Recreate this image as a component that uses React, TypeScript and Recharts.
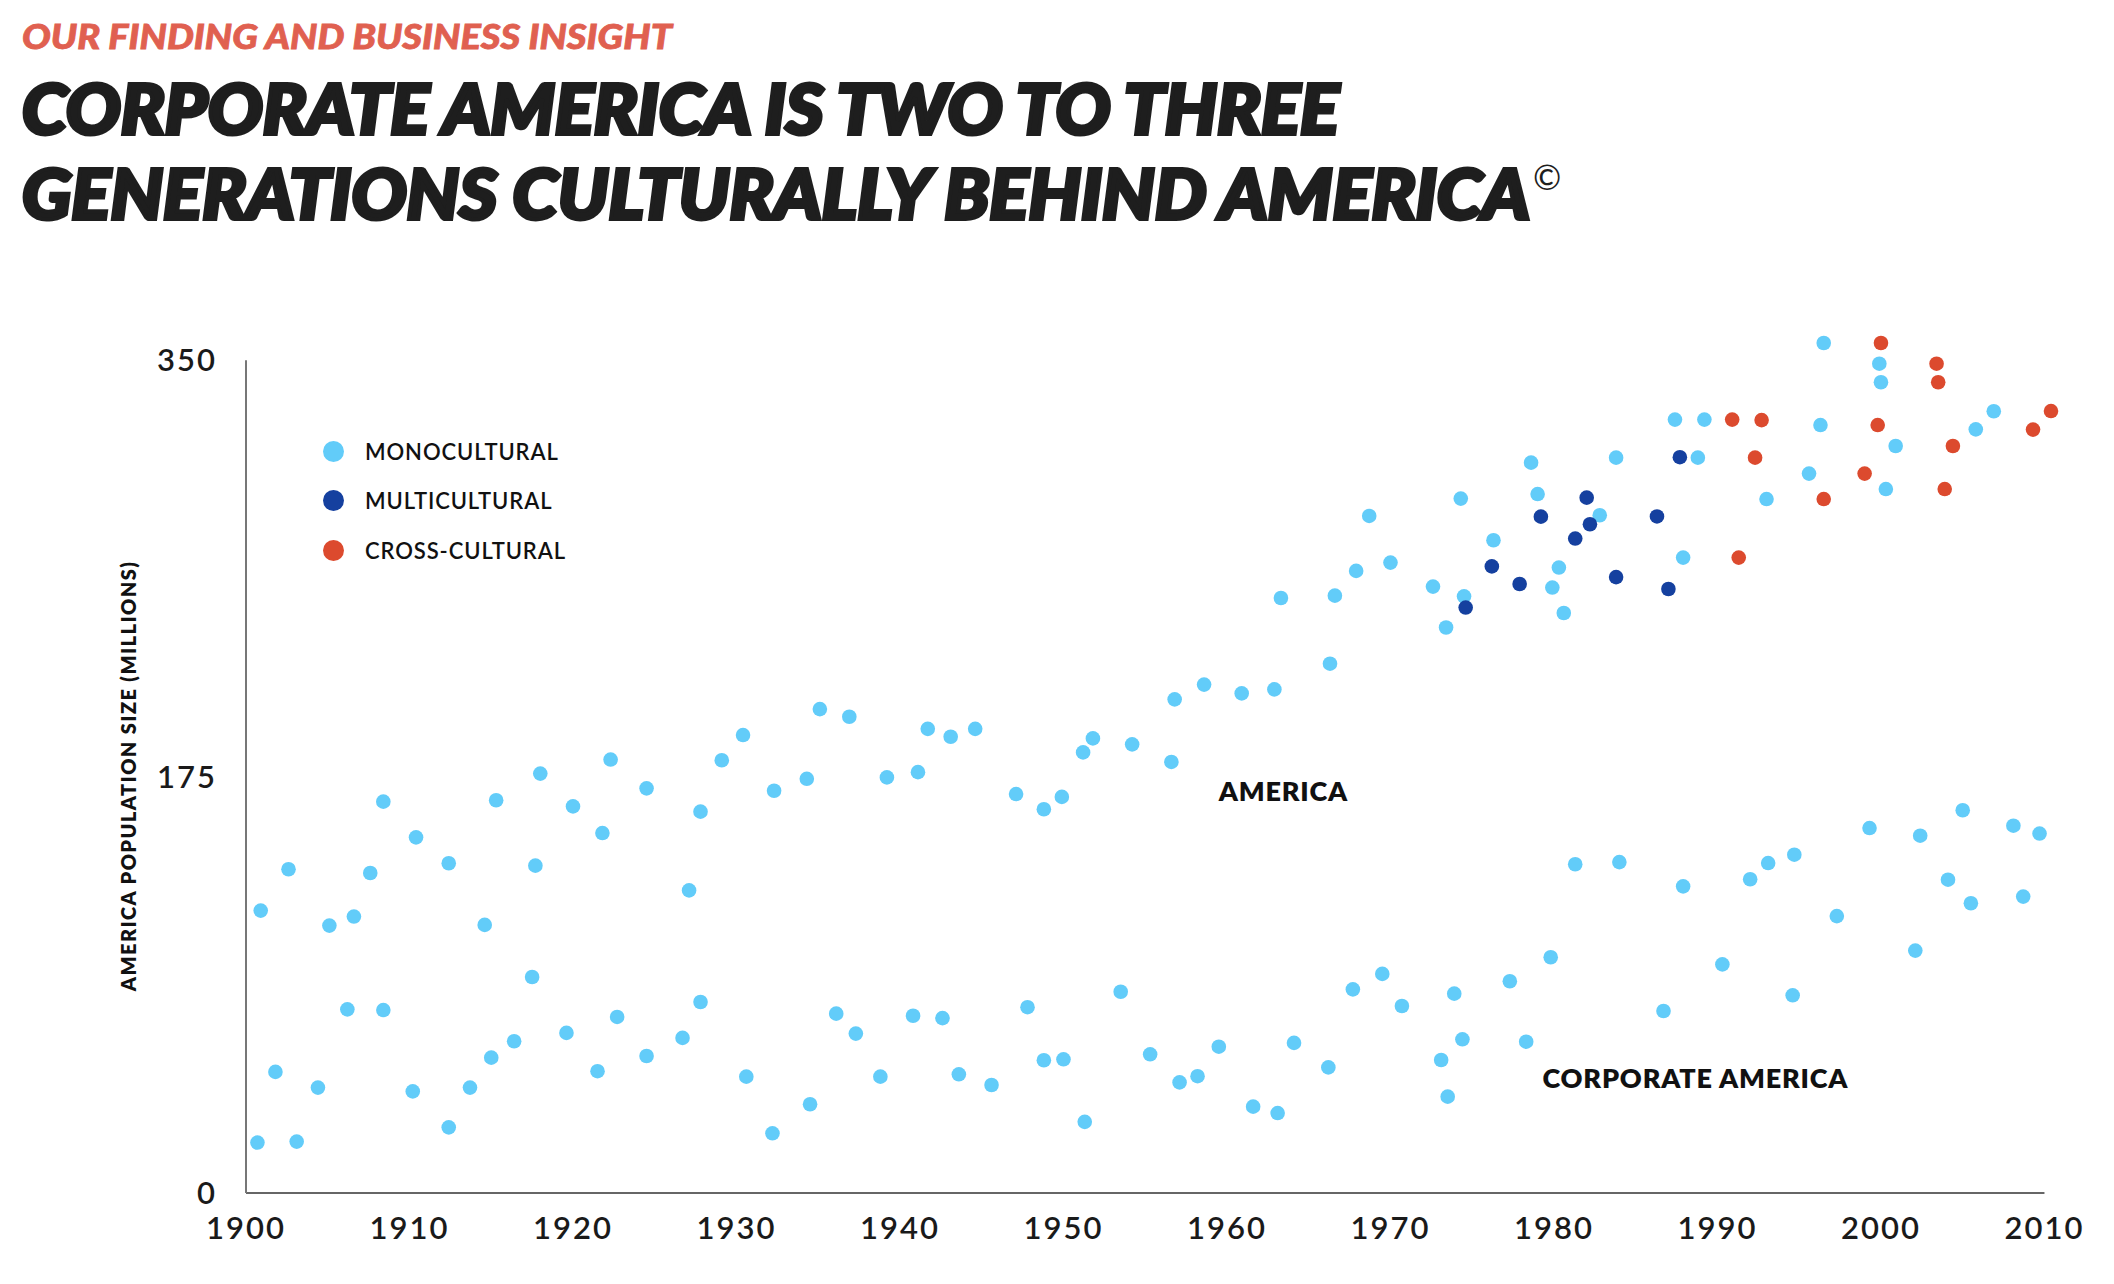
import { Legend, ReferenceDot, ReferenceLine, Scatter, ScatterChart, XAxis, YAxis } from 'recharts';

const MONO = '#62CCF9';
const MULTI = '#15409F';
const CROSS = '#DC4A2E';

const X_TICKS = [1900, 1910, 1920, 1930, 1940, 1950, 1960, 1970, 1980, 1990, 2000, 2010];
const Y_TICKS = [0, 175, 350];

// [year, population in millions]
const americaMono: [number, number][] = [
  [1900.9, 118.7], [1902.6, 136.1], [1905.1, 112.4], [1906.6, 116.2], [1907.6, 134.5],
  [1908.4, 164.5], [1910.4, 149.5], [1912.4, 138.6], [1914.6, 112.7], [1915.3, 165.1],
  [1917.7, 137.6], [1918.0, 176.3], [1920.0, 162.5], [1921.8, 151.3], [1922.3, 182.2],
  [1924.5, 170.1], [1927.1, 127.2], [1927.8, 160.3], [1929.1, 181.9], [1930.4, 192.5],
  [1932.3, 169.1], [1934.3, 174.1], [1935.1, 203.4], [1936.9, 200.2], [1939.2, 174.7],
  [1941.1, 176.9], [1941.7, 195.1], [1943.1, 191.8], [1944.6, 195.1], [1947.1, 167.7],
  [1948.8, 161.3], [1949.9, 166.5], [1951.2, 185.2], [1951.8, 191.1], [1954.2, 188.6],
  [1956.6, 181.2], [1956.8, 207.5], [1958.6, 213.7], [1960.9, 210.0], [1962.9, 211.7],
  [1963.3, 250.1], [1966.3, 222.5], [1966.6, 251.1], [1967.9, 261.5], [1968.7, 284.6],
  [1970.0, 265.0], [1972.6, 254.9], [1973.4, 237.7], [1974.3, 291.9], [1974.5, 250.8],
  [1976.3, 274.4], [1978.6, 307.0], [1979.0, 293.8], [1979.9, 254.5], [1980.3, 262.9],
  [1980.6, 243.8], [1982.8, 284.9], [1983.8, 309.1], [1987.4, 325.1], [1987.9, 267.1],
  [1988.8, 309.1], [1989.2, 325.1], [1993.0, 291.7], [1995.6, 302.4], [1996.3, 322.8],
  [1996.5, 357.3], [1999.9, 348.6], [2000.0, 340.8], [2000.3, 295.9], [2000.9, 314.0],
  [2005.8, 321.0], [2006.9, 328.6],
];

const corporateMono: [number, number][] = [
  [1900.7, 21.2], [1901.8, 50.9], [1903.1, 21.6], [1904.4, 44.3], [1906.2, 77.2],
  [1908.4, 76.9], [1910.2, 42.7], [1912.4, 27.6], [1913.7, 44.3], [1915.0, 56.9],
  [1916.4, 63.8], [1917.5, 90.8], [1919.6, 67.3], [1921.5, 51.2], [1922.7, 74.0],
  [1924.5, 57.6], [1926.7, 65.2], [1927.8, 80.3], [1930.6, 48.9], [1932.2, 25.1],
  [1934.5, 37.3], [1936.1, 75.4], [1937.3, 67.0], [1938.8, 48.9], [1940.8, 74.5],
  [1942.6, 73.5], [1943.6, 49.9], [1945.6, 45.4], [1947.8, 78.1], [1948.8, 55.8],
  [1950.0, 56.2], [1951.3, 29.9], [1953.5, 84.6], [1955.3, 58.3], [1957.1, 46.5],
  [1958.2, 49.1], [1959.5, 61.5], [1961.6, 36.3], [1963.1, 33.6], [1964.1, 63.1],
  [1966.2, 52.8], [1967.7, 85.6], [1969.5, 92.1], [1970.7, 78.6], [1973.1, 55.9],
  [1973.5, 40.5], [1973.9, 83.8], [1974.4, 64.6], [1977.3, 89.0], [1978.3, 63.6],
  [1979.8, 99.1], [1981.3, 138.2], [1984.0, 139.1], [1986.7, 76.5], [1987.9, 128.9],
  [1990.3, 96.1], [1992.0, 131.9], [1993.1, 138.7], [1994.6, 83.1], [1994.7, 142.2],
  [1997.3, 116.4], [1999.3, 153.4], [2002.1, 101.9], [2002.4, 150.2], [2004.1, 131.7],
  [2005.0, 160.9], [2005.5, 121.8], [2008.1, 154.4], [2008.7, 124.6], [2009.7, 151.1],
];

const multicultural: [number, number][] = [
  [1974.6, 246.1], [1976.2, 263.4], [1977.9, 256.0], [1979.2, 284.3], [1981.3, 275.1],
  [1982.0, 292.3], [1982.2, 281.1], [1983.8, 258.9], [1986.3, 284.4], [1987.0, 253.9],
  [1987.7, 309.3],
];

const crossCultural: [number, number][] = [
  [1990.9, 325.1], [1991.3, 267.1], [1992.3, 309.1], [1992.7, 324.9], [1996.5, 291.7],
  [1999.0, 302.4], [1999.8, 322.8], [2000.0, 357.3], [2003.4, 348.6], [2003.5, 340.8],
  [2003.9, 295.9], [2004.4, 314.0], [2009.3, 320.9], [2010.4, 328.7],
];

const LEGEND_ITEMS = [
  { name: 'MONOCULTURAL', color: MONO },
  { name: 'MULTICULTURAL', color: MULTI },
  { name: 'CROSS-CULTURAL', color: CROSS },
];

const toPoints = (rows: [number, number][]) => rows.map(([x, y]) => ({ x, y }));

const FONT = 'Lato, "Open Sans", sans-serif';

// eslint-disable-next-line @typescript-eslint/no-explicit-any
const dot = (color: string) => (props: any) => <circle cx={props.cx} cy={props.cy} r={7.3} fill={color} />;

function LegendBox() {
  return (
    <div style={{ fontFamily: FONT }}>
      {LEGEND_ITEMS.map((item) => (
        <div key={item.name} style={{ display: 'flex', alignItems: 'center', height: 49.3 }}>
          <span
            style={{
              display: 'inline-block',
              width: 21,
              height: 21,
              borderRadius: '50%',
              background: item.color,
              marginRight: 21,
            }}
          />
          <span style={{ fontSize: 22, fontWeight: 600, letterSpacing: 0.9, color: '#111' }}>{item.name}</span>
        </div>
      ))}
    </div>
  );
}

function annotation(text: string) {
  // eslint-disable-next-line @typescript-eslint/no-explicit-any
  return (props: any) => {
    const { x, y } = props.viewBox;
    return (
      <text
        x={x}
        y={y}
        dominantBaseline="central"
        fontFamily={FONT}
        fontSize={27}
        fontWeight={800}
        letterSpacing={0.8}
        fill="#111"
      >
        {text}
      </text>
    );
  };
}

function yAxisTitle() {
  return (
    <text
      transform="translate(128, 776) rotate(-90)"
      textAnchor="middle"
      dominantBaseline="central"
      fontFamily={FONT}
      fontSize={20}
      fontWeight={800}
      letterSpacing={1.4}
      fill="#111"
    >
      AMERICA POPULATION SIZE (MILLIONS)
    </text>
  );
}

export default function App() {
  const tickStyle = { fontSize: 31, fontFamily: FONT, fontWeight: 600, fill: '#1a1a1a', letterSpacing: 2 };
  const heavy = { fontFamily: FONT, fontWeight: 900, fontStyle: 'italic' as const };

  return (
    <div style={{ position: 'absolute', left: 0, top: 0, width: 2114, height: 1284, background: '#fff' }}>
      <svg width={2114} height={250} style={{ position: 'absolute', left: 0, top: 0 }}>
        <text
          x={22}
          y={49}
          {...heavy}
          fontSize={34}
          fill="#E06050"
          stroke="#E06050"
          strokeWidth={0.8}
          textLength={650}
          lengthAdjust="spacingAndGlyphs"
        >
          OUR FINDING AND BUSINESS INSIGHT
        </text>
        <text
          x={22}
          y={134}
          {...heavy}
          fontSize={69}
          fill="#1e1e1e"
          stroke="#1e1e1e"
          strokeWidth={4}
          textLength={1317}
          lengthAdjust="spacingAndGlyphs"
        >
          CORPORATE AMERICA IS TWO TO THREE
        </text>
        <text
          x={22}
          y={219}
          {...heavy}
          fontSize={69}
          fill="#1e1e1e"
          stroke="#1e1e1e"
          strokeWidth={4}
          textLength={1508}
          lengthAdjust="spacingAndGlyphs"
        >
          GENERATIONS CULTURALLY BEHIND AMERICA
        </text>
        <text x={1533} y={190} fontFamily={FONT} fontSize={34} fill="#1e1e1e">
          ©
        </text>
      </svg>

      <div style={{ position: 'absolute', left: 0, top: 0 }}>
        <ScatterChart width={2114} height={1284} margin={{ top: 343, right: 63, bottom: 0, left: 0 }}>
          <XAxis
            type="number"
            dataKey="x"
            domain={[1900, 'dataMax']}
            ticks={X_TICKS}
            axisLine={false}
            tickLine={false}
            tickSize={0}
            tickMargin={24}
            height={91}
            tick={tickStyle}
            interval={0}
          />
          <YAxis
            type="number"
            dataKey="y"
            domain={[0, 'dataMax']}
            ticks={Y_TICKS}
            axisLine={false}
            tickLine={false}
            tickSize={0}
            tickMargin={29}
            width={246}
            tick={tickStyle}
            interval={0}
            label={yAxisTitle}
          />
          <ReferenceLine segment={[{ x: 1900, y: 0 }, { x: 2010, y: 0 }]} stroke="#666" strokeWidth={2} />
          <ReferenceLine segment={[{ x: 1900, y: 0 }, { x: 1900, y: 350 }]} stroke="#777" strokeWidth={2} />
          <Legend
            layout="vertical"
            align="center"
            verticalAlign="middle"
            content={() => <LegendBox />}
            wrapperStyle={{ left: 323, top: 427, width: 'auto' }}
          />
          <Scatter name="MONOCULTURAL" data={toPoints(americaMono)} shape={dot(MONO)} isAnimationActive={false} />
          <Scatter name="MONOCULTURAL " data={toPoints(corporateMono)} shape={dot(MONO)} isAnimationActive={false} />
          <Scatter name="MULTICULTURAL" data={toPoints(multicultural)} shape={dot(MULTI)} isAnimationActive={false} />
          <Scatter name="CROSS-CULTURAL" data={toPoints(crossCultural)} shape={dot(CROSS)} isAnimationActive={false} />
          <ReferenceDot x={1959.5} y={169.2} r={0} fill="none" stroke="none" label={annotation('AMERICA')} />
          <ReferenceDot x={1979.3} y={48.4} r={0} fill="none" stroke="none" label={annotation('CORPORATE AMERICA')} />
        </ScatterChart>
      </div>
    </div>
  );
}
